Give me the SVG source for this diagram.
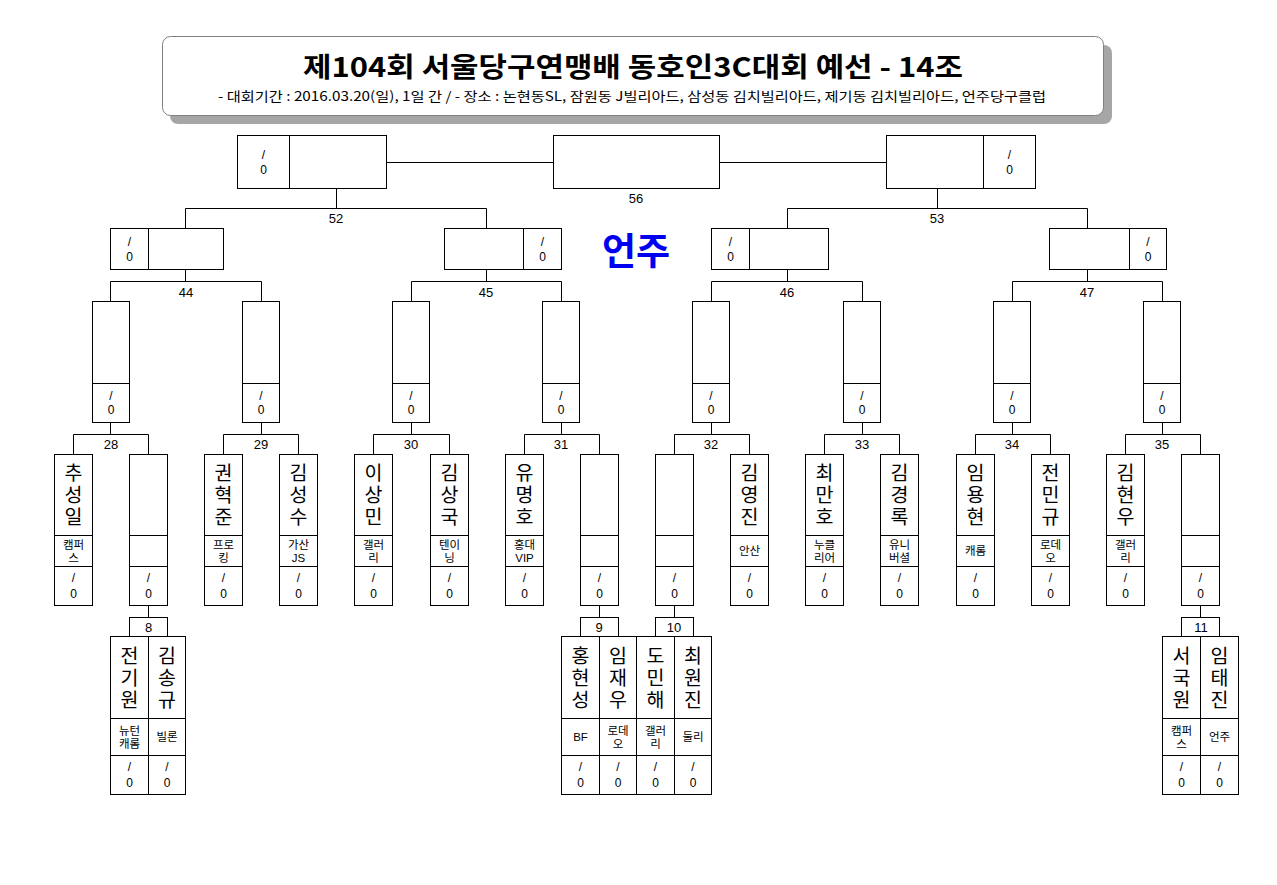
<svg xmlns="http://www.w3.org/2000/svg" width="1277" height="885" viewBox="0 0 1277 885">
<style>
text{font-family:"Liberation Sans","Noto Sans CJK KR",sans-serif;fill:#000;text-anchor:middle;dominant-baseline:central}
.b{fill:#fff;stroke:#000;stroke-width:1}
.l{fill:none;stroke:#000;stroke-width:1}
.n{font-size:19.5px}
.c{font-size:11.5px}
.s{font-size:12px}
.lb{font-size:13px}
.t{font-family:"Noto Sans CJK KR",sans-serif}
</style>
<rect width="1277" height="885" fill="#fff"/>
<g id="title">
<rect x="170" y="45" width="942" height="79" rx="8" fill="#a6a6a6"/>
<rect x="162.5" y="36.5" width="941" height="79" rx="8" fill="#fff" stroke="#808080"/>
<text class="t" x="633" y="65" font-size="27" font-weight="bold" textLength="660" lengthAdjust="spacingAndGlyphs">제104회 서울당구연맹배 동호인3C대회 예선 - 14조</text>
<text class="t" x="632" y="95" font-size="13" textLength="828" lengthAdjust="spacingAndGlyphs">- 대회기간 : 2016.03.20(일), 1일 간 / - 장소 : 논현동SL, 잠원동 J빌리아드, 삼성동 김치빌리아드, 제기동 김치빌리아드, 언주당구클럽</text>
</g>
<g id="venue"><text class="t" x="636" y="249" font-size="37" font-weight="bold" style="fill:#0000f0">언주</text></g>
<g id="connectors" class="l">
<path d="M386.5 162.5H553.5M719.5 162.5H886.5"/>
<path d="M336.5 188.5V208.5M185.5 228.5V208.5H486.5V228.5"/>
<path d="M937.5 188.5V208.5M787.5 228.5V208.5H1087.5V228.5"/>
<path d="M185.5 269.5V281.5M110.5 301.5V281.5H261.5V301.5"/>
<path d="M486.5 269.5V281.5M411.5 301.5V281.5H561.5V301.5"/>
<path d="M787.5 269.5V281.5M711.5 301.5V281.5H862.5V301.5"/>
<path d="M1087.5 269.5V281.5M1012.5 301.5V281.5H1162.5V301.5"/>
<path d="M110.5 422.5V434.5M73.5 454.5V434.5H148.5V454.5"/>
<path d="M261.5 422.5V434.5M223.5 454.5V434.5H298.5V454.5"/>
<path d="M411.5 422.5V434.5M373.5 454.5V434.5H449.5V454.5"/>
<path d="M561.5 422.5V434.5M524.5 454.5V434.5H599.5V454.5"/>
<path d="M711.5 422.5V434.5M674.5 454.5V434.5H749.5V454.5"/>
<path d="M862.5 422.5V434.5M824.5 454.5V434.5H899.5V454.5"/>
<path d="M1012.5 422.5V434.5M975.5 454.5V434.5H1050.5V454.5"/>
<path d="M1162.5 422.5V434.5M1125.5 454.5V434.5H1200.5V454.5"/>
<path d="M148.5 605.5V617.5M599.5 605.5V617.5M674.5 605.5V617.5M1200.5 605.5V617.5"/>
</g>
<g id="labels" class="lb">
<text x="636" y="198">56</text>
<text x="336" y="218">52</text>
<text x="937" y="218">53</text>
<text x="186" y="292">44</text>
<text x="486" y="292">45</text>
<text x="787" y="292">46</text>
<text x="1087" y="292">47</text>
<text x="111" y="444.5">28</text>
<text x="261" y="444.5">29</text>
<text x="411" y="444.5">30</text>
<text x="561" y="444.5">31</text>
<text x="711" y="444.5">32</text>
<text x="862" y="444.5">33</text>
<text x="1012" y="444.5">34</text>
<text x="1162" y="444.5">35</text>
</g>
<g id="final-left"><rect class="b" x="237.5" y="135.5" width="149" height="53"/><path class="l" d="M289.5 135.5V188.5"/><text class="s"><tspan x="263.5" y="155">/</tspan><tspan x="263.5" y="170">0</tspan></text></g>
<g id="m56"><rect class="b" x="553.5" y="135.5" width="166" height="53"/></g>
<g id="final-right"><rect class="b" x="886.5" y="135.5" width="149" height="53"/><path class="l" d="M983.5 135.5V188.5"/><text class="s"><tspan x="1009.5" y="155">/</tspan><tspan x="1009.5" y="170">0</tspan></text></g>
<g id="m44"><rect class="b" x="110.5" y="228.5" width="113" height="41"/><path class="l" d="M148.5 228.5V269.5"/><text class="s"><tspan x="129.5" y="242">/</tspan><tspan x="129.5" y="257">0</tspan></text></g>
<g id="m45"><rect class="b" x="444.5" y="228.5" width="117" height="41"/><path class="l" d="M523.5 228.5V269.5"/><text class="s"><tspan x="542.5" y="242">/</tspan><tspan x="542.5" y="257">0</tspan></text></g>
<g id="m46"><rect class="b" x="711.5" y="228.5" width="117" height="41"/><path class="l" d="M749.5 228.5V269.5"/><text class="s"><tspan x="730.5" y="242">/</tspan><tspan x="730.5" y="257">0</tspan></text></g>
<g id="m47"><rect class="b" x="1049.5" y="228.5" width="117" height="41"/><path class="l" d="M1129.5 228.5V269.5"/><text class="s"><tspan x="1148" y="242">/</tspan><tspan x="1148" y="257">0</tspan></text></g>
<g id="m28w"><rect class="b" x="92.5" y="301.5" width="37" height="121"/><path class="l" d="M92.5 383.5H129.5"/><text class="s"><tspan x="111" y="396">/</tspan><tspan x="111" y="410">0</tspan></text></g>
<g id="m29w"><rect class="b" x="242.5" y="301.5" width="37" height="121"/><path class="l" d="M242.5 383.5H279.5"/><text class="s"><tspan x="261" y="396">/</tspan><tspan x="261" y="410">0</tspan></text></g>
<g id="m30w"><rect class="b" x="392.5" y="301.5" width="37" height="121"/><path class="l" d="M392.5 383.5H429.5"/><text class="s"><tspan x="411" y="396">/</tspan><tspan x="411" y="410">0</tspan></text></g>
<g id="m31w"><rect class="b" x="542.5" y="301.5" width="37" height="121"/><path class="l" d="M542.5 383.5H579.5"/><text class="s"><tspan x="561" y="396">/</tspan><tspan x="561" y="410">0</tspan></text></g>
<g id="m32w"><rect class="b" x="692.5" y="301.5" width="37" height="121"/><path class="l" d="M692.5 383.5H729.5"/><text class="s"><tspan x="711" y="396">/</tspan><tspan x="711" y="410">0</tspan></text></g>
<g id="m33w"><rect class="b" x="843.5" y="301.5" width="37" height="121"/><path class="l" d="M843.5 383.5H880.5"/><text class="s"><tspan x="862" y="396">/</tspan><tspan x="862" y="410">0</tspan></text></g>
<g id="m34w"><rect class="b" x="993.5" y="301.5" width="37" height="121"/><path class="l" d="M993.5 383.5H1030.5"/><text class="s"><tspan x="1012" y="396">/</tspan><tspan x="1012" y="410">0</tspan></text></g>
<g id="m35w"><rect class="b" x="1143.5" y="301.5" width="37" height="121"/><path class="l" d="M1143.5 383.5H1180.5"/><text class="s"><tspan x="1162" y="396">/</tspan><tspan x="1162" y="410">0</tspan></text></g>
<g id="p0"><rect class="b" x="54.5" y="454.5" width="38" height="151"/><path class="l" d="M54.5 535.5H92.5M54.5 566.5H92.5"/><text class="n"><tspan x="73.5" y="473">추</tspan><tspan x="73.5" y="495">성</tspan><tspan x="73.5" y="517">일</tspan></text><text class="c"><tspan x="73.5" y="545">캠퍼</tspan><tspan x="73.5" y="558">스</tspan></text><text class="s"><tspan x="73.5" y="578">/</tspan><tspan x="73.5" y="594">0</tspan></text></g>
<g id="p1"><rect class="b" x="129.5" y="454.5" width="38" height="151"/><path class="l" d="M129.5 535.5H167.5M129.5 566.5H167.5"/><text class="s"><tspan x="148.5" y="578">/</tspan><tspan x="148.5" y="594">0</tspan></text></g>
<g id="p2"><rect class="b" x="204.5" y="454.5" width="38" height="151"/><path class="l" d="M204.5 535.5H242.5M204.5 566.5H242.5"/><text class="n"><tspan x="223.5" y="473">권</tspan><tspan x="223.5" y="495">혁</tspan><tspan x="223.5" y="517">준</tspan></text><text class="c"><tspan x="223.5" y="545">프로</tspan><tspan x="223.5" y="558">킹</tspan></text><text class="s"><tspan x="223.5" y="578">/</tspan><tspan x="223.5" y="594">0</tspan></text></g>
<g id="p3"><rect class="b" x="279.5" y="454.5" width="38" height="151"/><path class="l" d="M279.5 535.5H317.5M279.5 566.5H317.5"/><text class="n"><tspan x="298.5" y="473">김</tspan><tspan x="298.5" y="495">성</tspan><tspan x="298.5" y="517">수</tspan></text><text class="c"><tspan x="298.5" y="545">가산</tspan><tspan x="298.5" y="558">JS</tspan></text><text class="s"><tspan x="298.5" y="578">/</tspan><tspan x="298.5" y="594">0</tspan></text></g>
<g id="p4"><rect class="b" x="354.5" y="454.5" width="38" height="151"/><path class="l" d="M354.5 535.5H392.5M354.5 566.5H392.5"/><text class="n"><tspan x="373.5" y="473">이</tspan><tspan x="373.5" y="495">상</tspan><tspan x="373.5" y="517">민</tspan></text><text class="c"><tspan x="373.5" y="545">갤러</tspan><tspan x="373.5" y="558">리</tspan></text><text class="s"><tspan x="373.5" y="578">/</tspan><tspan x="373.5" y="594">0</tspan></text></g>
<g id="p5"><rect class="b" x="430.5" y="454.5" width="38" height="151"/><path class="l" d="M430.5 535.5H468.5M430.5 566.5H468.5"/><text class="n"><tspan x="449.5" y="473">김</tspan><tspan x="449.5" y="495">상</tspan><tspan x="449.5" y="517">국</tspan></text><text class="c"><tspan x="449.5" y="545">텐이</tspan><tspan x="449.5" y="558">닝</tspan></text><text class="s"><tspan x="449.5" y="578">/</tspan><tspan x="449.5" y="594">0</tspan></text></g>
<g id="p6"><rect class="b" x="505.5" y="454.5" width="38" height="151"/><path class="l" d="M505.5 535.5H543.5M505.5 566.5H543.5"/><text class="n"><tspan x="524.5" y="473">유</tspan><tspan x="524.5" y="495">명</tspan><tspan x="524.5" y="517">호</tspan></text><text class="c"><tspan x="524.5" y="545">홍대</tspan><tspan x="524.5" y="558">VIP</tspan></text><text class="s"><tspan x="524.5" y="578">/</tspan><tspan x="524.5" y="594">0</tspan></text></g>
<g id="p7"><rect class="b" x="580.5" y="454.5" width="38" height="151"/><path class="l" d="M580.5 535.5H618.5M580.5 566.5H618.5"/><text class="s"><tspan x="599.5" y="578">/</tspan><tspan x="599.5" y="594">0</tspan></text></g>
<g id="p8"><rect class="b" x="655.5" y="454.5" width="38" height="151"/><path class="l" d="M655.5 535.5H693.5M655.5 566.5H693.5"/><text class="s"><tspan x="674.5" y="578">/</tspan><tspan x="674.5" y="594">0</tspan></text></g>
<g id="p9"><rect class="b" x="730.5" y="454.5" width="38" height="151"/><path class="l" d="M730.5 535.5H768.5M730.5 566.5H768.5"/><text class="n"><tspan x="749.5" y="473">김</tspan><tspan x="749.5" y="495">영</tspan><tspan x="749.5" y="517">진</tspan></text><text class="c"><tspan x="749.5" y="551">안산</tspan></text><text class="s"><tspan x="749.5" y="578">/</tspan><tspan x="749.5" y="594">0</tspan></text></g>
<g id="p10"><rect class="b" x="805.5" y="454.5" width="38" height="151"/><path class="l" d="M805.5 535.5H843.5M805.5 566.5H843.5"/><text class="n"><tspan x="824.5" y="473">최</tspan><tspan x="824.5" y="495">만</tspan><tspan x="824.5" y="517">호</tspan></text><text class="c"><tspan x="824.5" y="545">누클</tspan><tspan x="824.5" y="558">리어</tspan></text><text class="s"><tspan x="824.5" y="578">/</tspan><tspan x="824.5" y="594">0</tspan></text></g>
<g id="p11"><rect class="b" x="880.5" y="454.5" width="38" height="151"/><path class="l" d="M880.5 535.5H918.5M880.5 566.5H918.5"/><text class="n"><tspan x="899.5" y="473">김</tspan><tspan x="899.5" y="495">경</tspan><tspan x="899.5" y="517">록</tspan></text><text class="c"><tspan x="899.5" y="545">유니</tspan><tspan x="899.5" y="558">버셜</tspan></text><text class="s"><tspan x="899.5" y="578">/</tspan><tspan x="899.5" y="594">0</tspan></text></g>
<g id="p12"><rect class="b" x="956.5" y="454.5" width="38" height="151"/><path class="l" d="M956.5 535.5H994.5M956.5 566.5H994.5"/><text class="n"><tspan x="975.5" y="473">임</tspan><tspan x="975.5" y="495">용</tspan><tspan x="975.5" y="517">현</tspan></text><text class="c"><tspan x="975.5" y="551">캐롬</tspan></text><text class="s"><tspan x="975.5" y="578">/</tspan><tspan x="975.5" y="594">0</tspan></text></g>
<g id="p13"><rect class="b" x="1031.5" y="454.5" width="38" height="151"/><path class="l" d="M1031.5 535.5H1069.5M1031.5 566.5H1069.5"/><text class="n"><tspan x="1050.5" y="473">전</tspan><tspan x="1050.5" y="495">민</tspan><tspan x="1050.5" y="517">규</tspan></text><text class="c"><tspan x="1050.5" y="545">로데</tspan><tspan x="1050.5" y="558">오</tspan></text><text class="s"><tspan x="1050.5" y="578">/</tspan><tspan x="1050.5" y="594">0</tspan></text></g>
<g id="p14"><rect class="b" x="1106.5" y="454.5" width="38" height="151"/><path class="l" d="M1106.5 535.5H1144.5M1106.5 566.5H1144.5"/><text class="n"><tspan x="1125.5" y="473">김</tspan><tspan x="1125.5" y="495">현</tspan><tspan x="1125.5" y="517">우</tspan></text><text class="c"><tspan x="1125.5" y="545">갤러</tspan><tspan x="1125.5" y="558">리</tspan></text><text class="s"><tspan x="1125.5" y="578">/</tspan><tspan x="1125.5" y="594">0</tspan></text></g>
<g id="p15"><rect class="b" x="1181.5" y="454.5" width="38" height="151"/><path class="l" d="M1181.5 535.5H1219.5M1181.5 566.5H1219.5"/><text class="s"><tspan x="1200.5" y="578">/</tspan><tspan x="1200.5" y="594">0</tspan></text></g>
<g id="g8"><rect class="b" x="129.5" y="617.5" width="38" height="19"/><text class="lb" x="148.5" y="627">8</text></g>
<g id="g9"><rect class="b" x="580.5" y="617.5" width="38" height="19"/><text class="lb" x="599" y="627">9</text></g>
<g id="g10"><rect class="b" x="655.5" y="617.5" width="38" height="19"/><text class="lb" x="674" y="627">10</text></g>
<g id="g11"><rect class="b" x="1181.5" y="617.5" width="38" height="19"/><text class="lb" x="1201" y="627">11</text></g>
<g id="s1"><rect class="b" x="110.5" y="636.5" width="38" height="158"/><path class="l" d="M110.5 718.5H148.5M110.5 755.5H148.5"/><text class="n"><tspan x="129.5" y="655.5">전</tspan><tspan x="129.5" y="677.5">기</tspan><tspan x="129.5" y="699.5">원</tspan></text><text class="c"><tspan x="129.5" y="730.5">뉴턴</tspan><tspan x="129.5" y="743.5">캐롬</tspan></text><text class="s"><tspan x="129.5" y="767">/</tspan><tspan x="129.5" y="783">0</tspan></text></g>
<g id="s2"><rect class="b" x="148.5" y="636.5" width="37" height="158"/><path class="l" d="M148.5 718.5H185.5M148.5 755.5H185.5"/><text class="n"><tspan x="167" y="655.5">김</tspan><tspan x="167" y="677.5">송</tspan><tspan x="167" y="699.5">규</tspan></text><text class="c"><tspan x="167" y="737">빌론</tspan></text><text class="s"><tspan x="167" y="767">/</tspan><tspan x="167" y="783">0</tspan></text></g>
<g id="s3"><rect class="b" x="561.5" y="636.5" width="38" height="158"/><path class="l" d="M561.5 718.5H599.5M561.5 755.5H599.5"/><text class="n"><tspan x="580.5" y="655.5">홍</tspan><tspan x="580.5" y="677.5">현</tspan><tspan x="580.5" y="699.5">성</tspan></text><text class="c"><tspan x="580.5" y="737">BF</tspan></text><text class="s"><tspan x="580.5" y="767">/</tspan><tspan x="580.5" y="783">0</tspan></text></g>
<g id="s4"><rect class="b" x="599.5" y="636.5" width="37" height="158"/><path class="l" d="M599.5 718.5H636.5M599.5 755.5H636.5"/><text class="n"><tspan x="618" y="655.5">임</tspan><tspan x="618" y="677.5">재</tspan><tspan x="618" y="699.5">우</tspan></text><text class="c"><tspan x="618" y="730.5">로데</tspan><tspan x="618" y="743.5">오</tspan></text><text class="s"><tspan x="618" y="767">/</tspan><tspan x="618" y="783">0</tspan></text></g>
<g id="s5"><rect class="b" x="636.5" y="636.5" width="38" height="158"/><path class="l" d="M636.5 718.5H674.5M636.5 755.5H674.5"/><text class="n"><tspan x="655.5" y="655.5">도</tspan><tspan x="655.5" y="677.5">민</tspan><tspan x="655.5" y="699.5">해</tspan></text><text class="c"><tspan x="655.5" y="730.5">갤러</tspan><tspan x="655.5" y="743.5">리</tspan></text><text class="s"><tspan x="655.5" y="767">/</tspan><tspan x="655.5" y="783">0</tspan></text></g>
<g id="s6"><rect class="b" x="674.5" y="636.5" width="37" height="158"/><path class="l" d="M674.5 718.5H711.5M674.5 755.5H711.5"/><text class="n"><tspan x="693" y="655.5">최</tspan><tspan x="693" y="677.5">원</tspan><tspan x="693" y="699.5">진</tspan></text><text class="c"><tspan x="693" y="737">둘리</tspan></text><text class="s"><tspan x="693" y="767">/</tspan><tspan x="693" y="783">0</tspan></text></g>
<g id="s7"><rect class="b" x="1162.5" y="636.5" width="38" height="158"/><path class="l" d="M1162.5 718.5H1200.5M1162.5 755.5H1200.5"/><text class="n"><tspan x="1181.5" y="655.5">서</tspan><tspan x="1181.5" y="677.5">국</tspan><tspan x="1181.5" y="699.5">원</tspan></text><text class="c"><tspan x="1181.5" y="730.5">캠퍼</tspan><tspan x="1181.5" y="743.5">스</tspan></text><text class="s"><tspan x="1181.5" y="767">/</tspan><tspan x="1181.5" y="783">0</tspan></text></g>
<g id="s8"><rect class="b" x="1200.5" y="636.5" width="38" height="158"/><path class="l" d="M1200.5 718.5H1238.5M1200.5 755.5H1238.5"/><text class="n"><tspan x="1219.5" y="655.5">임</tspan><tspan x="1219.5" y="677.5">태</tspan><tspan x="1219.5" y="699.5">진</tspan></text><text class="c"><tspan x="1219.5" y="737">언주</tspan></text><text class="s"><tspan x="1219.5" y="767">/</tspan><tspan x="1219.5" y="783">0</tspan></text></g>
</svg>
